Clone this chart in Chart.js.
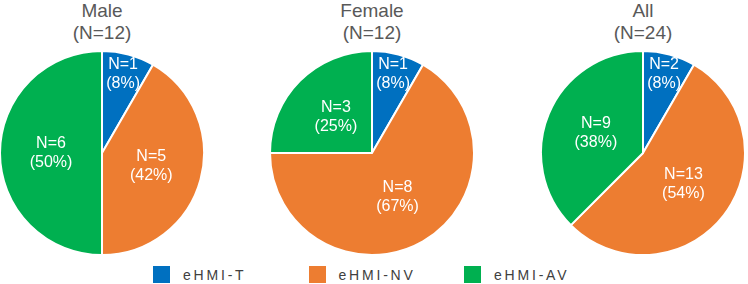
<!DOCTYPE html>
<html>
<head>
<meta charset="utf-8">
<script src="https://cdn.jsdelivr.net/npm/chart.js@4"></script>
<style>
  body { margin: 0; background: #fff; width: 748px; height: 284px; overflow: hidden; position: relative;
         font-family: "Liberation Sans", Arial, sans-serif; }
  .pie { position: absolute; top: 50px; width: 206px; height: 206px; }
  .title { position: absolute; top: 0; width: 206px; text-align: center; color: #595959;
           font-size: 19px; line-height: 22px; }
  .legend-item { position: absolute; top: 266px; height: 17px; display: flex; align-items: center; }
  .legend-item .box { width: 17px; height: 17px; margin-right: 13px; }
  .legend-item span { font-size: 14px; letter-spacing: 2.8px; color: #404040; }
</style>
</head>
<body>
<script>
// categories and counts per group
const categories = ['eHMI-T', 'eHMI-NV', 'eHMI-AV'];
const groups = ['Male', 'Female', 'All'];
const maleCounts = [1, 5, 6];
const femaleCounts = [1, 8, 3];
const allCounts = [2, 13, 9];

const colors = ['#0070C0', '#ED7D31', '#00B050'];
const pieLeft = [-1, 269, 540];
const counts = [maleCounts, femaleCounts, allCounts];

// labels "N=x (y%)" inside each slice
const sliceLabels = {
    id: 'sliceLabels',
    afterDatasetsDraw(chart) {
        const ctx = chart.ctx;
        const data = chart.data.datasets[0].data;
        const total = data.reduce((a, b) => a + b, 0);
        chart.getDatasetMeta(0).data.forEach((arc, i) => {
            const p = arc.getProps(['x', 'y', 'startAngle', 'endAngle', 'outerRadius'], true);
            const share = data[i] / total;
            const mid = (p.startAngle + p.endAngle) / 2;
            const r = p.outerRadius * (share < 0.1 ? 0.8 : 0.5);
            const x = p.x + Math.cos(mid) * r;
            const y = p.y + Math.sin(mid) * r;
            ctx.save();
            ctx.fillStyle = '#fff';
            ctx.font = '16px "Liberation Sans", Arial, sans-serif';
            ctx.textAlign = 'center';
            ctx.textBaseline = 'middle';
            ctx.fillText('N=' + data[i], x, y - 9.5);
            ctx.fillText('(' + Math.round(share * 100) + '%)', x, y + 9.5);
            ctx.restore();
        });
    }
};

groups.forEach((g, k) => {
    const total = counts[k].reduce((a, b) => a + b, 0);

    const title = document.createElement('div');
    title.className = 'title';
    title.style.left = pieLeft[k] + 'px';
    title.innerHTML = g + '<br>(N=' + total + ')';
    document.body.appendChild(title);

    const wrap = document.createElement('div');
    wrap.className = 'pie';
    wrap.style.left = pieLeft[k] + 'px';
    const canvas = document.createElement('canvas');
    wrap.appendChild(canvas);
    document.body.appendChild(wrap);

    new Chart(canvas.getContext('2d'), {
        type: 'pie',
        data: {
            labels: categories,
            datasets: [{
                data: counts[k],
                backgroundColor: colors,
                borderColor: '#fff',
                borderWidth: 2
            }]
        },
        options: {
            responsive: true,
            maintainAspectRatio: false,
            animation: false,
            events: [],
            plugins: { legend: { display: false }, tooltip: { enabled: false } }
        },
        plugins: [sliceLabels]
    });
});

// legend
categories.forEach((c, i) => {
    const item = document.createElement('div');
    item.className = 'legend-item';
    item.style.left = (153 + i * 155.5) + 'px';
    item.innerHTML = '<div class="box" style="background:' + colors[i] + '"></div><span>' + c + '</span>';
    document.body.appendChild(item);
});
</script>
</body>
</html>
